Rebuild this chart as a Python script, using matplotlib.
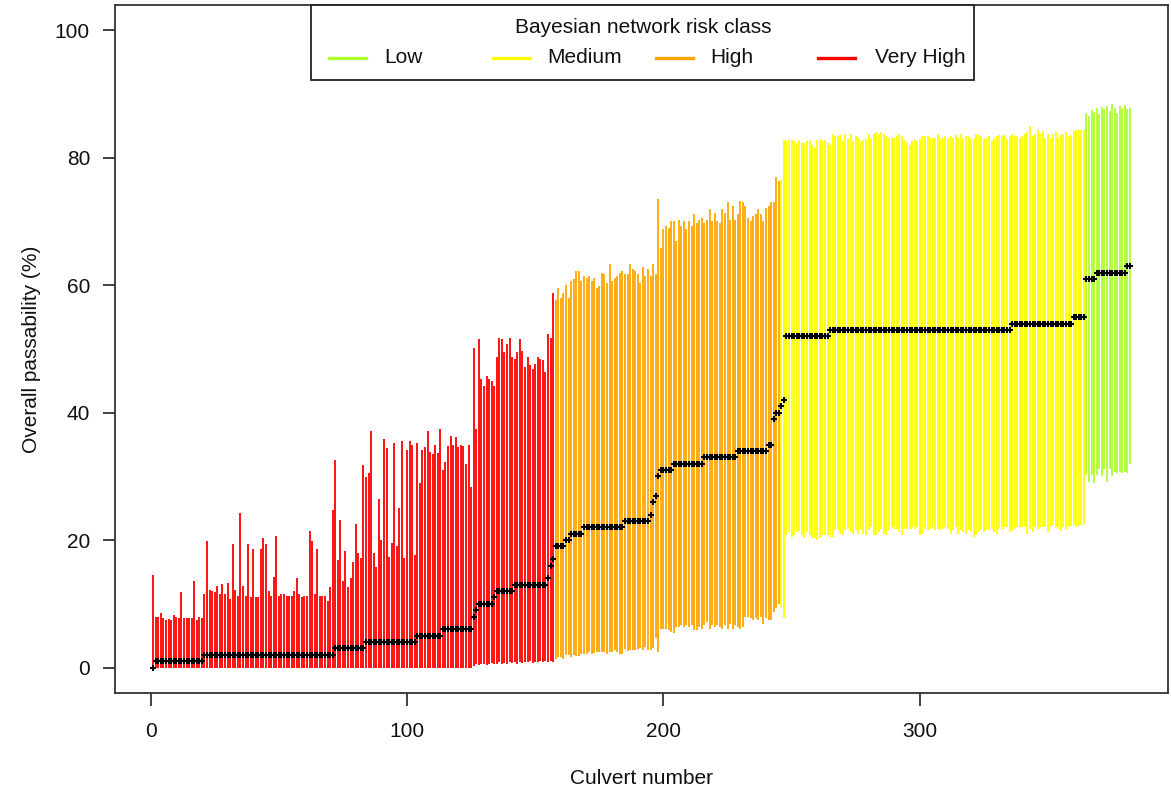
import numpy as np
import matplotlib
matplotlib.use("Agg")
import matplotlib.pyplot as plt
from matplotlib.patches import Rectangle

plt.rcParams["font.family"] = ["Liberation Sans", "DejaVu Sans"]

# risk classes in plotting order and their colours
class_names = ["Very High", "High", "Medium", "Low"]
class_colours = ["#FF0000", "#FFA500", "#FFFF00", "#ADFF2F"]
legend_order = ["Low", "Medium", "High", "Very High"]

# upper / lower ends of each culvert's interval (%)
upper_very_high = [
    14.5, 7.9, 8.0, 8.5, 7.7, 7.4, 7.6, 7.4, 8.2, 8.0,
    7.7, 11.8, 7.8, 7.7, 7.7, 7.7, 13.6, 7.4, 8.0, 7.7,
    11.5, 19.9, 12.2, 12.0, 11.8, 12.8, 11.5, 13.1, 11.5, 13.3,
    10.7, 19.4, 12.2, 11.3, 24.2, 12.8, 11.3, 19.4, 11.0, 18.6,
    11.0, 11.0, 18.6, 20.4, 19.4, 12.0, 11.3, 14.2, 20.7, 11.3,
    11.5, 11.5, 11.3, 11.3, 11.3, 12.0, 14.1, 11.5, 11.0, 11.3,
    11.3, 21.5, 19.9, 11.5, 18.6, 11.3, 11.3, 11.3, 10.5, 12.6,
    24.7, 32.5, 16.8, 23.1, 13.6, 18.3, 12.6,
    14.0, 16.6, 22.6, 17.9, 17.2, 31.8, 29.9, 30.5, 37.2, 17.9,
    15.8, 26.4, 20.0, 35.8, 34.4, 17.4, 19.6, 35.3, 19.0, 25.1,
    35.6, 17.2, 34.1, 35.6, 35.0, 17.7, 35.3, 29.0, 34.1, 34.6,
    37.2, 33.8, 33.5, 35.0, 33.6, 37.4, 31.0, 32.2, 34.8, 36.4,
    35.0, 36.2, 34.6, 35.0, 34.8, 32.0, 35.0, 28.3, 50.1, 37.4,
    51.5, 45.3, 44.2, 45.8, 45.3, 45.0, 44.2, 48.8, 51.8, 51.5,
    49.5, 50.8, 51.8, 48.8, 48.4, 49.5, 51.5, 49.7, 47.1, 48.8,
    47.5, 46.9, 47.6, 48.8, 48.4, 48.2, 46.4, 52.3, 51.8, 58.8,
]
lower_very_high = [0.0] * 125 + [
    0.3, 0.5, 0.4, 0.6, 0.5, 0.4, 0.6, 0.7, 0.5, 0.6,
    0.8, 0.6, 0.7, 0.5, 0.8, 0.7, 0.9, 0.6, 0.8, 0.7,
    0.9, 0.8, 1.0, 0.7, 0.9, 0.8, 1.0, 0.9, 1.1, 0.8,
    1.0, 0.9,
]

upper_high = [
    57.7, 59.6, 58.0, 58.8, 60.1, 58.0, 60.6, 61.0, 62.3, 62.3,
    60.6, 61.4, 61.2, 61.4, 60.6, 61.2, 59.6, 59.9, 62.0, 61.8,
    60.4, 63.3, 60.6, 61.2, 61.4, 62.0, 62.2, 61.8, 61.8, 63.3,
    62.5, 62.2, 61.8, 60.4, 62.8, 61.4, 62.5, 61.4, 63.3, 61.8,
    73.6, 65.9, 68.8, 69.3, 69.0, 70.1, 70.1, 66.9, 70.3, 69.3,
    70.1, 68.8, 70.1, 69.3, 71.2, 69.8, 70.3, 70.6, 69.8, 70.3,
    71.9, 70.1, 71.4, 70.1, 69.8, 71.9, 71.4, 73.0, 70.3, 72.5,
    70.3, 71.2, 73.3, 73.0, 72.5, 70.6, 70.1, 70.9, 71.2, 71.9,
    71.2, 70.1, 72.2, 72.5, 73.0, 73.0, 77.0, 76.3,
]
lower_high = [
    1.4, 1.6, 1.7, 1.4, 1.9, 1.9, 1.7, 1.9, 1.8, 1.8,
    2.2, 2.2, 2.2, 2.5, 2.2, 2.3, 2.5, 2.4, 2.4, 2.4,
    2.2, 2.5, 2.5, 2.7, 2.5, 2.1, 2.1, 2.9, 2.6, 2.7,
    2.8, 2.7, 2.9, 3.0, 2.7, 3.2, 2.7, 2.7, 3.0, 4.6,
    2.4, 6.1, 6.1, 6.0, 5.9, 5.5, 5.4, 6.4, 6.4, 6.6,
    6.3, 6.6, 6.4, 6.7, 5.9, 5.9, 6.4, 6.1, 6.6, 7.2,
    6.1, 6.6, 6.4, 6.7, 6.4, 6.1, 6.6, 6.1, 6.9, 6.1,
    6.6, 6.4, 6.1, 6.4, 8.0, 8.0, 7.7, 7.5, 7.7, 7.5,
    8.0, 6.9, 7.7, 7.5, 7.5, 8.7, 9.3, 10.0,
]

upper_medium = [76.5] + [
    82.8, 82.6, 82.8, 82.8, 82.7, 82.3, 82.8, 82.3, 82.4, 82.7,
    82.8, 82.1, 81.5, 82.8, 83.0, 82.7, 82.8, 82.3, 82.0, 83.8,
    83.5, 83.4, 83.6, 82.7, 83.8, 83.0, 83.8, 82.7, 83.5, 83.2,
    82.6, 82.8, 83.0, 83.8, 83.1, 83.8, 84.1, 83.8, 84.1, 83.8,
    83.5, 83.2, 83.1, 83.2, 83.4, 83.8, 83.4, 82.8, 82.3, 82.0,
    82.7, 82.8, 82.7, 83.0, 83.5, 83.4, 83.5, 83.2, 83.1, 83.2,
    83.7, 83.0, 83.2, 83.5, 83.2, 83.5, 83.1, 83.6, 83.2, 83.7,
    83.2, 83.4, 83.5, 83.0, 83.2, 83.8, 83.6, 83.5, 83.0, 83.2,
    83.4, 82.6, 83.1, 83.5, 83.6, 83.4, 83.6, 83.0, 83.4, 83.7,
    83.4, 83.5, 83.2, 83.5, 83.7, 84.1, 85.0, 83.4, 83.8, 84.4,
    83.8, 84.2, 83.2, 83.8, 83.2, 83.8, 84.1, 83.2, 83.6, 83.8,
    84.1, 83.4, 83.6, 84.2, 84.4, 84.4, 84.4, 84.4,
]
lower_medium = [9.5, 7.7] + [
    20.8, 21.2, 20.5, 20.8, 21.2, 21.5, 20.8, 20.4, 21.3, 20.8,
    20.3, 20.4, 20.0, 20.3, 20.8, 20.8, 20.8, 20.5, 20.5, 21.6,
    21.6, 21.0, 20.8, 21.6, 21.8, 21.3, 21.0, 21.6, 21.0, 21.8,
    21.0, 20.8, 21.6, 22.1, 20.8, 20.8, 21.3, 21.8, 21.0, 20.8,
    21.6, 22.1, 21.8, 21.8, 21.3, 20.8, 21.8, 21.8, 21.8, 22.1,
    21.8, 22.1, 20.8, 21.0, 21.7, 21.6, 21.8, 22.1, 21.6, 21.8,
    21.6, 21.8, 22.0, 21.8, 21.0, 21.6, 22.1, 21.0, 21.6, 21.3,
    21.0, 21.6, 21.3, 20.5, 20.8, 21.3, 21.6, 21.3, 21.8, 21.6,
    21.8, 21.3, 21.0, 21.8, 21.8, 22.0, 22.1, 21.2, 21.6, 21.8,
    22.1, 22.0, 22.0, 22.1, 21.0, 21.8, 21.3, 22.1, 21.8, 22.0,
    22.1, 22.1, 21.3, 22.1, 22.4, 22.1, 21.8, 21.4, 22.0, 21.7,
    22.1, 22.2, 22.3, 22.0, 22.2, 22.4, 22.6,
]

upper_low = [
    87.0, 86.5, 87.5, 87.2, 87.8, 86.9, 88.0, 87.6, 88.2, 87.4,
    88.5, 87.9, 87.1, 88.1, 87.6, 88.3, 87.7, 87.9,
]
lower_low = [
    30.2, 29.2, 30.2, 28.9, 30.2, 31.2, 30.0, 31.2, 29.2, 31.2,
    30.0, 30.7, 30.5, 30.7, 30.5, 30.7, 30.5, 32.0,
]

# median passability as (value, number of culverts) runs
median_runs_very_high = [(0, 1), (1, 19), (2, 51), (3, 12), (4, 20), (5, 10),
                         (6, 12), (8, 1), (9, 1), (10, 6), (11, 1), (12, 7),
                         (13, 13), (14, 1), (16, 1), (17, 1)]
median_runs_high = [(19, 4), (20, 2), (21, 5), (22, 16), (23, 10), (24, 1),
                    (26, 1), (27, 1), (30, 1), (31, 5), (32, 12), (33, 13),
                    (34, 12), (35, 2), (39, 1), (40, 2)]
median_runs_medium = [(41, 1), (42, 1), (52, 17), (53, 71), (54, 24), (55, 5)]
median_runs_low = [(61, 4), (62, 12), (63, 2)]


def expand_runs(runs):
    out = []
    for value, count in runs:
        out += [value] * count
    return out


def plot_passability():
    fig = plt.figure(figsize=(11.71, 7.94), dpi=100)
    ax = fig.add_axes([115 / 1171, 1 - 693 / 794, 1053 / 1171, 688 / 794])

    classes = [
        (upper_very_high, lower_very_high, median_runs_very_high),
        (upper_high, lower_high, median_runs_high),
        (upper_medium, lower_medium, median_runs_medium),
        (upper_low, lower_low, median_runs_low),
    ]

    start = 1
    all_x, all_med = [], []
    for (upper, lower, runs), colour in zip(classes, class_colours):
        med = expand_runs(runs)
        assert len(upper) == len(lower) == len(med), (len(upper), len(lower), len(med))
        x = np.arange(start, start + len(med))
        ax.vlines(x, lower, upper, color=colour, lw=1.3)
        all_x.extend(x)
        all_med.extend(med)
        start += len(med)

    ax.plot(all_x, all_med, "+", color="black", ms=5, mew=1.5, zorder=3)

    ax.set_xlim(-13.9, 396.8)
    ax.set_ylim(-4, 104)
    ax.set_xticks([0, 100, 200, 300])
    ax.set_yticks([0, 20, 40, 60, 80, 100])
    ax.tick_params(direction="out", length=9, width=1.3, color="#333333",
                   labelsize=15, labelcolor="#111111")
    ax.tick_params(axis="x", pad=12)
    ax.tick_params(axis="y", pad=9)
    for s in ax.spines.values():
        s.set_linewidth(1.3)
        s.set_color("#333333")

    ax.set_xlabel("Culvert number", fontsize=15, color="#111111")
    ax.xaxis.set_label_coords(0.5, -0.11)
    ax.set_ylabel("Overall passability (%)", fontsize=15, color="#111111")
    ax.yaxis.set_label_coords(-0.07, 0.5)

    # legend box drawn by hand so the columns sit evenly like the original
    ax.add_patch(Rectangle((0.1861, 0.891), 0.6297, 0.109, transform=ax.transAxes,
                           facecolor="white", edgecolor="#222222", lw=1.3,
                           clip_on=False, zorder=4))
    ax.text(0.5014, 0.968, "Bayesian network risk class", transform=ax.transAxes,
            ha="center", va="center", fontsize=15, color="#111111", zorder=5)
    line_x = [0.2037, 0.3590, 0.5134, 0.6676]
    text_x = [0.2560, 0.4103, 0.5651, 0.7214]
    for name, lx, tx in zip(legend_order, line_x, text_x):
        colour = class_colours[class_names.index(name)]
        ax.plot([lx, lx + 0.0351], [0.923, 0.923], color=colour, lw=2.4,
                transform=ax.transAxes, clip_on=False, zorder=5)
        ax.text(tx, 0.923, name, transform=ax.transAxes, ha="left", va="center",
                fontsize=15, color="#111111", zorder=5)

    fig.savefig("out.png", dpi=100)


if __name__ == "__main__":
    plot_passability()
